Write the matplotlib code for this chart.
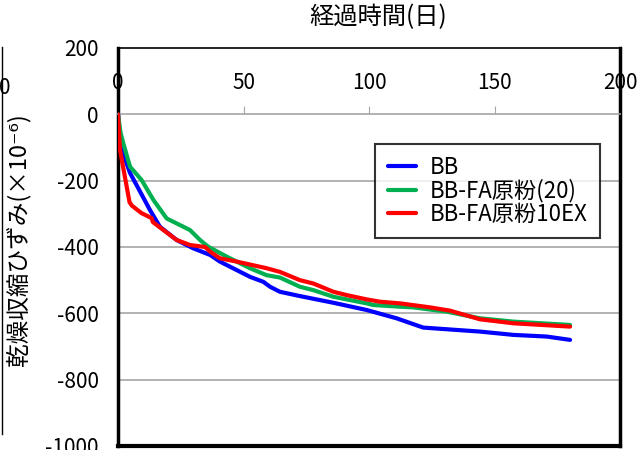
import matplotlib
matplotlib.use('Agg')
import matplotlib.pyplot as plt
from matplotlib.lines import Line2D

plt.rcParams['font.family'] = ['Noto Sans CJK JP', 'DejaVu Sans']
plt.rcParams['axes.unicode_minus'] = False

# 経過時間(日) / 乾燥収縮ひずみ(×10^-6)
bb_d = [0, 1, 2.1, 4.8, 8.8, 12.7, 16.7, 23.4, 30, 36.7, 40.6, 52.6, 57.9, 60.6, 64.5,
        72.5, 85.7, 99.1, 111, 121.6, 144.2, 157.5, 170.8, 180.1]
bb_v = [0, -90, -120, -177, -233, -288, -339, -379, -404, -424, -444, -490, -505, -520, -535,
        -548, -568, -590, -615, -643, -655, -665, -670, -680]

fa20_d = [0, 1, 2.1, 4.8, 9.4, 14.1, 19.4, 28.7, 32.7, 35.9, 43.3, 52.6, 59.2, 64.5, 72.5,
          77.8, 85.8, 91.1, 99.1, 101.7, 112.4, 117.6, 131, 144.2, 157.5, 180.1]
fa20_v = [0, -55, -87, -158, -198, -258, -314, -349, -379, -399, -429, -464, -485, -492, -520,
          -530, -550, -558, -570, -575, -580, -582, -595, -615, -625, -635]

fa10ex_d = [0, 0.8, 4.6, 5.5, 9.4, 13.4, 13.9, 23.4, 28.7, 34.7, 36.7, 40.6, 47.3, 59.2, 64.5,
            72.5, 77.8, 85.8, 91.1, 99.1, 104.4, 112.4, 124.3, 132.3, 144.2, 157.5, 180.1]
fa10ex_v = [0, -108, -265, -275, -298, -313, -325, -379, -394, -400, -414, -434, -444, -464, -475,
            -500, -510, -535, -545, -558, -565, -570, -582, -592, -618, -630, -640]

series = [(bb_d, bb_v, '#0000FF', 'BB'),
          (fa20_d, fa20_v, '#00B050', 'BB-FA原粉(20)'),
          (fa10ex_d, fa10ex_v, '#FF0000', 'BB-FA原粉10EX')]

x_ticks = [0, 50, 100, 150, 200]
y_ticks = [200, 0, -200, -400, -600, -800, -1000]

fig = plt.figure(figsize=(6.44, 4.5), dpi=100)
ax = fig.add_axes([118/644, 1-446/450, (620-118)/644, (446-48)/450])

for d, v, c, lab in series:
    ax.plot(d, v, color=c, lw=3, label=lab, solid_capstyle='round', zorder=3)

ax.set_xlim(0, 200)
ax.set_ylim(-1000, 200)
ax.set_yticks(y_ticks)
ax.set_yticklabels([str(t) for t in y_ticks], fontsize=15)
ax.tick_params(axis='y', length=0, pad=14)
for t in [-200, -400, -600, -800]:
    ax.axhline(t, color='#A6A6A6', lw=1.2, zorder=1)

# x axis crossing at 0, ticks pointing up
ax.spines['bottom'].set_position(('data', 0))
ax.spines['bottom'].set_color('#A6A6A6')
ax.spines['bottom'].set_linewidth(1.2)
ax.set_xticks(x_ticks)
ax.tick_params(axis='x', direction='in', length=6, color='#A6A6A6', labelbottom=False)
for t in x_ticks:
    ax.text(t, 0.911, str(t), transform=ax.get_xaxis_transform(), ha='center', va='center', fontsize=15)

ax.spines['left'].set_linewidth(2.5)
ax.spines['right'].set_linewidth(2.5)
ax.spines['top'].set_linewidth(1.2)
ax.axhline(-1000, color='black', lw=3, clip_on=False, zorder=4)

fig.text(18/644, 1-240/450, '乾燥収縮ひずみ(×10⁻⁶)', rotation=90, ha='center', va='center', fontsize=17)
fig.text(378/644, 1-17/450, '経過時間(日)', ha='center', va='center', fontsize=17.5)

leg = ax.legend(loc='upper right', bbox_to_anchor=(0.96, 0.759), fontsize=16, frameon=True,
                fancybox=False, handlelength=1.3, handletextpad=0.6, labelspacing=0.0,
                borderpad=0.55, borderaxespad=0)
leg.get_frame().set_edgecolor('black')
leg.get_frame().set_linewidth(1.5)

# leftover edge of neighbouring panel
fig.add_artist(Line2D([2/644, 2/644], [1-47/450, 1-434/450], color='black', lw=1))
fig.text(5/644, 1-88/450, '0', ha='center', va='center', fontsize=15)

fig.savefig('out.png', dpi=100)
